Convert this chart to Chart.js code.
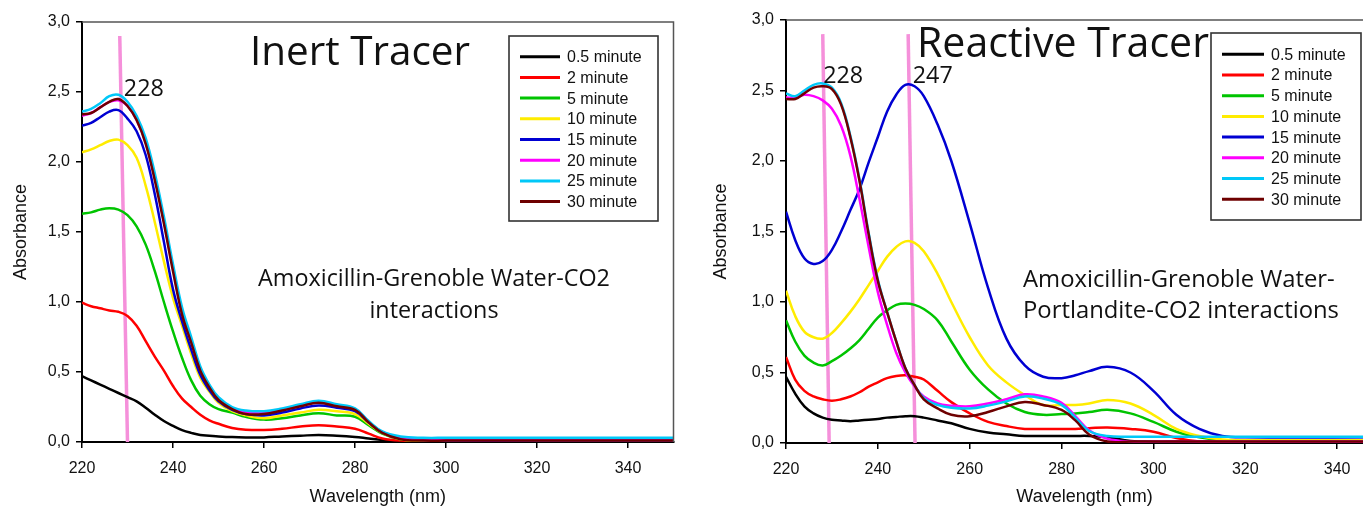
<!DOCTYPE html>
<html>
<head>
<meta charset="utf-8">
<script src="https://cdn.jsdelivr.net/npm/chart.js@4.4.1/dist/chart.umd.min.js"></script>
<style>
    html, body { margin: 0; padding: 0; background: #fff; overflow: hidden; width: 1363px; height: 513px; }
    .panel { position: absolute; top: 0; height: 513px; }
    #inertBox { left: 0; width: 690px; }
    #reactiveBox { left: 700px; width: 700px; }
</style>
</head>
<body>
<div class="panel" id="inertBox"><canvas id="inertChart"></canvas></div>
<div class="panel" id="reactiveBox"><canvas id="reactiveChart"></canvas></div>
<script>
// UV spectra of amoxicillin, inert vs reactive tracer

const seriesLabels = ['0.5 minute', '2 minute', '5 minute', '10 minute', '15 minute', '20 minute', '25 minute', '30 minute'];
const seriesColors = ['#000000', '#ff0000', '#00c400', '#ffec00', '#0000d2', '#ff00ff', '#00c8f8', '#6e0000'];

const yTicks = [0, 0.5, 1, 1.5, 2, 2.5, 3];

// Inert tracer (nm / absorbance)
const inertWavelengths = [220, 222, 224, 226, 228, 230, 232, 234, 236, 238, 240, 242, 244, 246, 248, 250, 253, 256, 260, 264, 268, 272, 276, 280, 283, 286, 290, 295, 300, 320, 350];
const inert05 = [.47, .44, .41, .38, .35, .32, .29, .245, .195, .15, .115, .085, .065, .05, .045, .04, .035, .033, .033, .04, .045, .05, .045, .036, .025, .015, .01, .01, .01, .01, .01];
const inert2  = [.995, .97, .955, .94, .93, .90, .83, .72, .61, .51, .40, .31, .25, .195, .155, .13, .10, .088, .086, .095, .11, .12, .11, .095, .06, .025, .01, .01, .01, .01, .01];
const inert5  = [1.63, 1.64, 1.66, 1.67, 1.66, 1.62, 1.54, 1.41, 1.22, 1.00, .79, .60, .44, .33, .27, .235, .21, .18, .16, .17, .19, .205, .19, .18, .12, .06, .02, .01, .01, .01, .01];
const inert10 = [2.07, 2.09, 2.12, 2.15, 2.16, 2.12, 2.03, 1.83, 1.57, 1.29, 1.03, .83, .63, .46, .36, .28, .22, .19, .17, .19, .21, .23, .22, .20, .13, .065, .02, .01, .01, .01, .01];
const inert15 = [2.26, 2.28, 2.32, 2.36, 2.37, 2.31, 2.22, 2.05, 1.77, 1.43, 1.09, .86, .66, .48, .37, .29, .23, .20, .19, .21, .24, .26, .245, .22, .14, .07, .025, .015, .01, .01, .01];
const inert20 = [2.33, 2.35, 2.39, 2.43, 2.44, 2.40, 2.30, 2.14, 1.89, 1.58, 1.24, .93, .72, .52, .40, .31, .24, .21, .21, .23, .265, .285, .26, .235, .145, .07, .025, .015, .015, .015, .015];
const inert25 = [2.36, 2.38, 2.42, 2.47, 2.48, 2.43, 2.33, 2.17, 1.92, 1.61, 1.27, .96, .75, .54, .41, .32, .25, .225, .22, .24, .27, .295, .27, .24, .15, .075, .04, .03, .03, .03, .03];
const inert30 = [2.34, 2.35, 2.39, 2.43, 2.45, 2.40, 2.30, 2.13, 1.87, 1.56, 1.22, .91, .71, .51, .39, .30, .235, .20, .20, .225, .255, .28, .255, .23, .14, .065, .02, .01, .01, .01, .01];

// Reactive tracer (nm / absorbance)
const reactiveWavelengths = [220, 222, 224, 226, 228, 230, 232, 234, 236, 238, 240, 242, 244, 246, 248, 250, 253, 256, 260, 264, 268, 272, 276, 280, 283, 286, 290, 295, 300, 305, 310, 315, 320, 350];
const react05 = [.47, .35, .26, .21, .18, .165, .16, .155, .16, .165, .17, .18, .185, .19, .19, .18, .16, .14, .10, .075, .062, .05, .05, .05, .05, .05, .04, .015, .01, .01, .01, .01, .01, .01];
const react2  = [.61, .45, .37, .33, .31, .30, .31, .33, .36, .40, .43, .46, .475, .48, .47, .45, .37, .29, .21, .15, .12, .10, .10, .10, .10, .105, .11, .10, .08, .035, .01, .01, .01, .01];
const react5  = [.87, .72, .62, .57, .55, .58, .62, .67, .73, .81, .89, .94, .98, .99, .98, .95, .87, .72, .52, .38, .28, .22, .20, .205, .21, .22, .235, .21, .15, .08, .04, .02, .02, .02];
const react10 = [1.08, .90, .79, .75, .74, .78, .85, .93, 1.02, 1.12, 1.22, 1.32, 1.39, 1.43, 1.42, 1.36, 1.20, 1.00, .75, .55, .43, .34, .27, .27, .27, .28, .305, .28, .20, .10, .05, .025, .02, .02];
const react15 = [1.64, 1.44, 1.31, 1.27, 1.29, 1.37, 1.50, 1.65, 1.80, 1.99, 2.17, 2.35, 2.47, 2.54, 2.53, 2.46, 2.26, 2.00, 1.56, 1.10, .74, .55, .47, .46, .48, .51, .54, .50, .37, .20, .10, .05, .04, .04];
const react20 = [2.45, 2.45, 2.47, 2.46, 2.43, 2.37, 2.25, 2.04, 1.73, 1.39, 1.07, .84, .64, .50, .40, .33, .28, .265, .26, .28, .31, .345, .33, .285, .19, .09, .03, .01, .01, .01, .01, .01, .01, .01];
const react25 = [2.48, 2.46, 2.50, 2.54, 2.55, 2.52, 2.41, 2.18, 1.87, 1.49, 1.16, .93, .72, .53, .41, .32, .27, .25, .245, .265, .295, .33, .315, .27, .18, .085, .05, .045, .045, .045, .045, .045, .045, .045];
const react30 = [2.44, 2.44, 2.48, 2.52, 2.53, 2.51, 2.40, 2.17, 1.86, 1.48, 1.15, .93, .72, .53, .41, .31, .245, .20, .19, .22, .26, .29, .27, .235, .16, .06, .01, .01, .01, .01, .01, .01, .01, .01];

// Peak markers: [x at top, x at baseline] of the pink guide lines, and label anchors
const peakLineTop = 2.9;
const inertPeaks = [228];
const inertPeakLineX = [[228.3, 230.0]];
const inertPeakLabelAt = [[229.2, 2.52]];
const reactivePeaks = [228, 247];
const reactivePeakLineX = [[228.0, 229.4], [246.6, 248.1]];
const reactivePeakLabelAt = [[228.1, 2.60], [247.6, 2.60]];

const calloutFont = '"Open Sans", sans-serif';
const axisFont = '"Liberation Sans", Arial, sans-serif';

function fitSize(ctx, text, family, width) {
    ctx.font = '100px ' + family;
    return 100 * width / ctx.measureText(text).width;
}

function buildDatasets(wavelengths, seriesList, peakLines) {
    const sets = seriesList.map((vals, i) => ({
        label: seriesLabels[i],
        data: wavelengths.map((w, j) => ({ x: w, y: vals[j] })),
        borderColor: seriesColors[i],
        borderWidth: 2.5,
        pointRadius: 0,
        tension: 0.4,
        fill: false,
        order: 20 - i
    }));
    peakLines.forEach(([top, bottom]) => {
        sets.push({
            label: 'peak',
            data: [{ x: top, y: peakLineTop }, { x: bottom, y: 0 }],
            borderColor: '#f590da',
            borderWidth: 3.5,
            pointRadius: 0,
            tension: 0,
            order: 40
        });
    });
    return sets;
}

const decorPlugin = {
    id: 'decor',
    afterDatasetsDraw(chart, args, opts) {
        const { ctx, chartArea: a, scales: { x, y } } = chart;
        ctx.save();

        // frame top + right
        ctx.strokeStyle = '#555';
        ctx.lineWidth = 1.5;
        ctx.beginPath();
        ctx.moveTo(a.left, a.top);
        ctx.lineTo(a.right, a.top);
        ctx.lineTo(a.right, a.bottom);
        ctx.stroke();

        ctx.fillStyle = '#111';
        ctx.textBaseline = 'alphabetic';

        // big title
        const t = opts.title;
        let size = fitSize(ctx, t.text, calloutFont, t.width);
        ctx.font = size + 'px ' + calloutFont;
        ctx.textAlign = 'left';
        ctx.fillText(t.text, t.x, t.y);

        // note lines
        const n = opts.note;
        size = fitSize(ctx, n.lines[0], calloutFont, n.width);
        ctx.font = size + 'px ' + calloutFont;
        ctx.textAlign = n.align;
        n.lines.forEach((line, i) => ctx.fillText(line, n.x, n.y + i * n.gap));

        // peak labels
        size = fitSize(ctx, '228', calloutFont, 40);
        ctx.font = size + 'px ' + calloutFont;
        ctx.textAlign = 'left';
        ctx.textBaseline = 'middle';
        opts.peaks.forEach((p, i) => {
            const [px, py] = opts.peakAt[i];
            ctx.fillText(String(p), x.getPixelForValue(px), y.getPixelForValue(py));
        });

        // legend box
        const L = opts.legend;
        ctx.fillStyle = '#fff';
        ctx.fillRect(L.left, L.top, L.right - L.left, L.bottom - L.top);
        ctx.strokeStyle = '#333';
        ctx.lineWidth = 1.6;
        ctx.strokeRect(L.left, L.top, L.right - L.left, L.bottom - L.top);
        ctx.font = '16px ' + axisFont;
        ctx.textAlign = 'left';
        ctx.textBaseline = 'middle';
        seriesLabels.forEach((lab, i) => {
            const ry = L.row0 + i * L.rowGap;
            ctx.strokeStyle = seriesColors[i];
            ctx.lineWidth = 3;
            ctx.beginPath();
            ctx.moveTo(L.lineFrom, ry);
            ctx.lineTo(L.lineTo, ry);
            ctx.stroke();
            ctx.fillStyle = '#111';
            ctx.fillText(lab, L.textX, ry + 1);
        });
        ctx.restore();
    }
};

function makeOptions(yWidth, xHeight, padTop, padRight, decor) {
    return {
        responsive: true,
        maintainAspectRatio: false,
        animation: false,
        layout: { padding: { top: padTop, right: padRight, left: 0, bottom: 0 } },
        plugins: {
            legend: { display: false },
            tooltip: { enabled: false },
            decor: decor
        },
        scales: {
            x: {
                type: 'linear',
                min: 220,
                max: 350,
                afterFit: s => { s.height = xHeight; },
                border: { color: '#000', width: 2 },
                grid: { drawOnChartArea: false, color: '#000', lineWidth: 1.5, tickLength: 6 },
                ticks: {
                    stepSize: 20,
                    includeBounds: false,
                    color: '#111',
                    padding: 11,
                    font: { family: axisFont, size: 16 },
                    callback: v => v
                },
                title: {
                    display: true,
                    text: 'Wavelength (nm)',
                    color: '#111',
                    font: { family: axisFont, size: 18 },
                    padding: { top: 0, bottom: 5 }
                }
            },
            y: {
                min: 0,
                max: 3,
                afterFit: s => { s.width = yWidth; },
                afterBuildTicks: s => { s.ticks = yTicks.map(v => ({ value: v })); },
                border: { color: '#000', width: 2 },
                grid: { drawOnChartArea: false, color: '#000', lineWidth: 1.5, tickLength: 6 },
                ticks: {
                    color: '#111',
                    padding: 6,
                    font: { family: axisFont, size: 16 },
                    callback: v => v.toFixed(1).replace('.', ',')
                },
                title: {
                    display: true,
                    text: 'Absorbance',
                    color: '#111',
                    font: { family: axisFont, size: 18 },
                    padding: { top: 10, bottom: 0 }
                }
            }
        }
    };
}

document.addEventListener('DOMContentLoaded', () => {
    new Chart(document.getElementById('inertChart'), {
        type: 'line',
        data: {
            datasets: buildDatasets(inertWavelengths,
                [inert05, inert2, inert5, inert10, inert15, inert20, inert25, inert30], inertPeakLineX)
        },
        options: makeOptions(82, 71, 22, 16.5, {
            title: { text: 'Inert Tracer', x: 250, y: 65, width: 220 },
            note: { lines: ['Amoxicillin-Grenoble Water-CO2', 'interactions'], x: 434, y: 286, gap: 32, width: 352, align: 'center' },
            peaks: inertPeaks,
            peakAt: inertPeakLabelAt,
            legend: { left: 509, right: 658, top: 36, bottom: 221, row0: 56.7, rowGap: 20.7, lineFrom: 520, lineTo: 560, textX: 567 }
        }),
        plugins: [decorPlugin]
    });

    new Chart(document.getElementById('reactiveChart'), {
        type: 'line',
        data: {
            datasets: buildDatasets(reactiveWavelengths,
                [react05, react2, react5, react10, react15, react20, react25, react30], reactivePeakLineX)
        },
        options: makeOptions(86, 70, 20, 17, {
            title: { text: 'Reactive Tracer', x: 217, y: 57, width: 292 },
            note: { lines: ['Amoxicillin-Grenoble Water-', 'Portlandite-CO2 interactions'], x: 323, y: 287, gap: 31, width: 312, align: 'left' },
            peaks: reactivePeaks,
            peakAt: reactivePeakLabelAt,
            legend: { left: 511, right: 661, top: 33, bottom: 220, row0: 54.3, rowGap: 20.7, lineFrom: 522, lineTo: 564, textX: 571 }
        }),
        plugins: [decorPlugin]
    });
});
</script>
</body>
</html>
